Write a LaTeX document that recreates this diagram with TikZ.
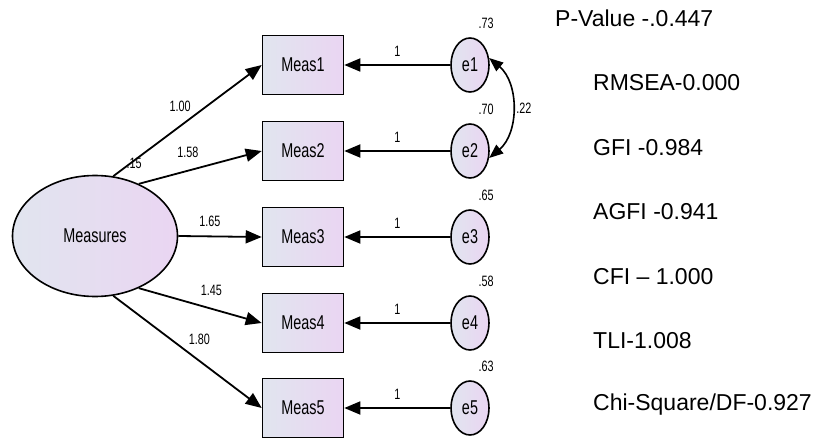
\documentclass[tikz,border=0pt]{standalone}
\usepackage{fontspec}
\setmainfont{Liberation Sans}
\newfontfamily\amosfont[FakeStretch=0.72]{Liberation Sans}
\usetikzlibrary{arrows.meta,calc,shapes.geometric}
\definecolor{shadeL}{RGB}{225,229,239}
\definecolor{shadeR}{RGB}{234,213,242}
\tikzset{ld/.style={-{Triangle[length=16pt,width=13pt]}, line width=1.8pt},
  cov/.style={{Triangle[length=14pt,width=11pt]}-{Triangle[length=14pt,width=11pt]}, line width=1.6pt},
  obs/.style={draw, line width=1.6pt, left color=shadeL, right color=shadeR, inner sep=0pt,
    minimum width=81pt, minimum height=59pt, font=\amosfont\fontsize{20}{22}\selectfont},
  lat/.style={ellipse, draw, line width=1.6pt, left color=shadeL, right color=shadeR, inner sep=0pt,
    minimum width=165pt, minimum height=121pt, font=\amosfont\fontsize{20}{22}\selectfont},
  res/.style={ellipse, draw, line width=1.6pt, left color=shadeL, right color=shadeR, inner sep=0pt,
    minimum width=38pt, minimum height=54pt, font=\amosfont\fontsize{20}{22}\selectfont},
  est/.style={inner sep=1pt, font=\amosfont\fontsize{15}{17}\selectfont},
  stat/.style={anchor=west, inner sep=0pt, font=\fontsize{23}{26}\selectfont}}

\begin{document}
\begin{tikzpicture}[x=1pt,y=-1pt]
  \useasboundingbox (0,0) rectangle (824,441);
  \node[lat] (ms) at (95,236) {Measures};
  \node[est] (vms) at ($(ms.65)+(12,-15)$) {.15};
  % indicators and their error terms
  \foreach \i/\y/\v in {1/65/.73,2/151/.70,3/237/.65,4/323/.58,5/408/.63} {
    \node[obs] (m\i) at (303,\y) {Meas\i};
    \node[res] (e\i) at (470,\y) {e\i};
    \node[est] (v\i) at ($(e\i.north)+(16,-14)$) {\v};
    \draw[ld] (e\i) -- node[est, above=7pt] {1} (m\i);
  }
  % loadings
  \draw[ld] (ms.73) -- node[est, pos=0.45, yshift=20pt] {1.00} (m1.west);
  \draw[ld] (ms.50) -- node[est, pos=0.4, yshift=18pt] {1.58} (m2.west);
  \draw[ld] (ms.east) -- node[est, pos=0.38, yshift=15pt] {1.65} (m3.west);
  \draw[ld] (ms.-50) -- node[est, pos=0.59, yshift=18pt] {1.45} (m4.west);
  \draw[ld] (ms.-73) -- node[est, pos=0.58, yshift=22pt] {1.80} (m5.west);
  % covariance e1 <-> e2
  \draw[cov] (e1.20) .. controls +(30,25) and +(30,-25) .. node[est, right=3pt] {.22} (e2.-20);
  % fit indices
  \node[stat] (pval) at (555,18) {P-Value -.0.447};
  \node[stat] (rmsea) at (593,83) {RMSEA-0.000};
  \node[stat] (gfi) at (593,148) {GFI -0.984};
  \node[stat] (agfi) at (593,212) {AGFI -0.941};
  \node[stat] (cfi) at (593,277) {CFI – 1.000};
  \node[stat] (tli) at (593,341) {TLI-1.008};
  \node[stat] (chisq) at (593,405) {Chi-Square/DF-0.927};
\end{tikzpicture}
\end{document}
